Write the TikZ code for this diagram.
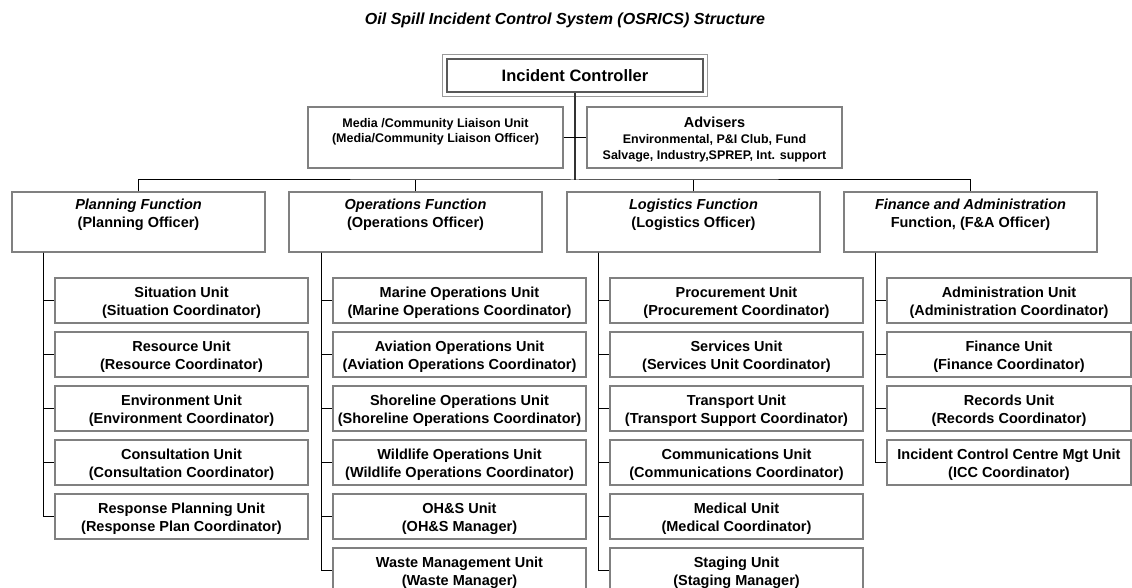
\documentclass[tikz,border=0pt]{standalone}
\usepackage{fontspec}
\setmainfont{Liberation Sans}
\begin{document}
\begin{tikzpicture}[x=1pt, y=-1pt,
        box/.style={draw=black!50, line width=1.2pt, inner sep=0pt, align=center,
            font=\bfseries\fontsize{14.5}{18}\selectfont},
        func/.style={box, minimum width=253pt, minimum height=60pt},
        unit/.style={box, minimum width=253pt, minimum height=45pt, text height=32.5pt},
        link/.style={draw=black, line width=1pt}]
        \useasboundingbox (0,0) rectangle (1132,588);

        \node[font=\bfseries\itshape\fontsize{16}{18}\selectfont] (title) at (565,20)
            {Oil Spill Incident Control System (OSRICS) Structure};

        % top of the chart
        \node[box, draw=black!65, line width=2.2pt, minimum width=256pt, minimum height=33pt,
            font=\bfseries\fontsize{16.5}{19}\selectfont] (ctrl) at (575,75.5) {Incident Controller};
        \draw[black!40, line width=0.8pt] ([shift={(-3.5,-3.5)}]ctrl.north west) rectangle ([shift={(3.5,3.5)}]ctrl.south east);
        \node[box, minimum width=255pt, minimum height=61pt, font=\bfseries\fontsize{12.5}{15}\selectfont] (media) at (435.5,137.5)
            {Media /Community Liaison Unit\\(Media/Community Liaison Officer)\\\mbox{}};
        \node[box, minimum width=255pt, minimum height=61pt, text height=46.5pt, font=\bfseries\fontsize{12.5}{16}\selectfont] (adv) at (714.5,137.5)
            {{\fontsize{14.5}{17}\selectfont Advisers}\\Environmental, P\&I Club, Fund\\Salvage, Industry,SPREP, Int. support};

        \coordinate (bus) at (575,180);
        \draw[link, line width=1.4pt, black!80] (ctrl.south) -- (bus);
        \draw[link] (media.east) -- (adv.west);

        % functions
        \node[func] (plan) at (138.5,222) {\textit{Planning Function}\\(Planning Officer)\\\mbox{}};
        \node[func] (ops) at (415.5,222) {\textit{Operations Function}\\(Operations Officer)\\\mbox{}};
        \node[func] (log) at (693.5,222) {\textit{Logistics Function}\\(Logistics Officer)\\\mbox{}};
        \node[func] (fin) at (970.5,222) {\textit{Finance and Administration}\\Function, (F\&A Officer)\\\mbox{}};

        \draw[link] (plan.north) |- (bus) -| (fin.north);
        \draw[link] (ops.north) -- (ops.north |- bus);
        \draw[link] (log.north) -- (log.north |- bus);

        % planning units
        \node[unit] (psit) at (181.5,300.5) {Situation Unit\\(Situation Coordinator)};
        \node[unit] (pres) at (181.5,354.5) {Resource Unit\\(Resource Coordinator)};
        \node[unit] (penv) at (181.5,408.5) {Environment Unit\\(Environment Coordinator)};
        \node[unit] (pcon) at (181.5,462.5) {Consultation Unit\\(Consultation Coordinator)};
        \node[unit] (prsp) at (181.5,516.5) {Response Planning Unit\\(Response Plan Coordinator)};

        % operations units
        \node[unit] (omar) at (459.5,300.5) {Marine Operations Unit\\(Marine Operations Coordinator)};
        \node[unit] (oavi) at (459.5,354.5) {Aviation Operations Unit\\(Aviation Operations Coordinator)};
        \node[unit] (osho) at (459.5,408.5) {Shoreline Operations Unit\\(Shoreline Operations Coordinator)};
        \node[unit] (owil) at (459.5,462.5) {Wildlife Operations Unit\\(Wildlife Operations Coordinator)};
        \node[unit] (oohs) at (459.5,516.5) {OH\&S Unit\\(OH\&S Manager)};
        \node[unit] (owst) at (459.5,570.5) {Waste Management Unit\\(Waste Manager)};

        % logistics units
        \node[unit] (lpro) at (736.5,300.5) {Procurement Unit\\(Procurement Coordinator)};
        \node[unit] (lser) at (736.5,354.5) {Services Unit\\(Services Unit Coordinator)};
        \node[unit] (ltra) at (736.5,408.5) {Transport Unit\\(Transport Support Coordinator)};
        \node[unit] (lcom) at (736.5,462.5) {Communications Unit\\(Communications Coordinator)};
        \node[unit] (lmed) at (736.5,516.5) {Medical Unit\\(Medical Coordinator)};
        \node[unit] (lsta) at (736.5,570.5) {Staging Unit\\(Staging Manager)};

        % finance units
        \node[unit, minimum width=244pt] (fadm) at (1009,300.5) {Administration Unit\\(Administration Coordinator)};
        \node[unit, minimum width=244pt] (ffin) at (1009,354.5) {Finance Unit\\(Finance Coordinator)};
        \node[unit, minimum width=244pt] (frec) at (1009,408.5) {Records Unit\\(Records Coordinator)};
        \node[unit, minimum width=244pt] (ficc) at (1009,462.5) {Incident Control Centre Mgt Unit\\(ICC Coordinator)};

        % spines
        \coordinate (pspine) at ([xshift=-95.5pt]plan.south);
        \coordinate (ospine) at ([xshift=-94.5pt]ops.south);
        \coordinate (lspine) at ([xshift=-95.5pt]log.south);
        \coordinate (fspine) at ([xshift=-95.5pt]fin.south);

        \draw[link] (pspine) |- (psit.west);
        \draw[link] (pspine) |- (pres.west);
        \draw[link] (pspine) |- (penv.west);
        \draw[link] (pspine) |- (pcon.west);
        \draw[link] (pspine) |- (prsp.west);

        \draw[link] (ospine) |- (omar.west);
        \draw[link] (ospine) |- (oavi.west);
        \draw[link] (ospine) |- (osho.west);
        \draw[link] (ospine) |- (owil.west);
        \draw[link] (ospine) |- (oohs.west);
        \draw[link] (ospine) |- (owst.west);

        \draw[link] (lspine) |- (lpro.west);
        \draw[link] (lspine) |- (lser.west);
        \draw[link] (lspine) |- (ltra.west);
        \draw[link] (lspine) |- (lcom.west);
        \draw[link] (lspine) |- (lmed.west);
        \draw[link] (lspine) |- (lsta.west);

        \draw[link] (fspine) |- (fadm.west);
        \draw[link] (fspine) |- (ffin.west);
        \draw[link] (fspine) |- (frec.west);
        \draw[link] (fspine) |- (ficc.west);
    \end{tikzpicture}
\end{document}
